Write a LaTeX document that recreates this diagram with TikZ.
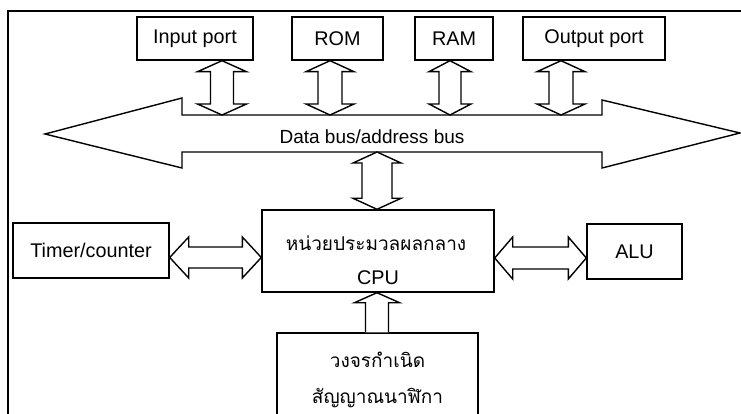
\documentclass[tikz,border=0pt]{standalone}
\usepackage{fontspec}
\setmainfont{Liberation Sans}
\newfontfamily\thaifont[Script=Thai]{Loma}
\usetikzlibrary{calc}
\tikzset{
  box/.style={draw, line width=1.4pt, inner sep=0pt},
  fat/.style={draw, line width=1.4pt, line join=miter, fill=white},
  lbl/.style={font=\fontsize{19.8}{23}\selectfont, inner sep=0pt},
  buslbl/.style={font=\fontsize{19}{23}\selectfont, inner sep=0pt},
  thlbl/.style={font=\thaifont\fontsize{19}{23}\selectfont, inner sep=0pt},
}
% vertical double fat arrow: #1 top point, #2 bottom point, #3 head half-width, #4 shaft half-width, #5 head length
\newcommand\fatV[5]{\draw[fat] let \p1=(#1), \p2=(#2) in
  (\x1,\y1) -- (\x1+#3pt,\y1-#5pt) -- (\x1+#4pt,\y1-#5pt) -- (\x1+#4pt,\y2+#5pt) -- (\x1+#3pt,\y2+#5pt)
  -- (\x1,\y2) -- (\x1-#3pt,\y2+#5pt) -- (\x1-#4pt,\y2+#5pt) -- (\x1-#4pt,\y1-#5pt) -- (\x1-#3pt,\y1-#5pt) -- cycle;}
% horizontal double fat arrow: #1 left point, #2 right point
\newcommand\fatH[5]{\draw[fat] let \p1=(#1), \p2=(#2) in
  (\x1,\y1) -- (\x1+#5pt,\y1+#3pt) -- (\x1+#5pt,\y1+#4pt) -- (\x2-#5pt,\y1+#4pt) -- (\x2-#5pt,\y1+#3pt)
  -- (\x2,\y1) -- (\x2-#5pt,\y1-#3pt) -- (\x2-#5pt,\y1-#4pt) -- (\x1+#5pt,\y1-#4pt) -- (\x1+#5pt,\y1-#3pt) -- cycle;}
% single upward fat arrow: #1 tip, #2 foot
\newcommand\fatUp[5]{\draw[fat] let \p1=(#1), \p2=(#2) in
  (\x1+#4pt,\y2) -- (\x1+#4pt,\y1-#5pt) -- (\x1+#3pt,\y1-#5pt) -- (\x1,\y1) -- (\x1-#3pt,\y1-#5pt)
  -- (\x1-#4pt,\y1-#5pt) -- (\x1-#4pt,\y2);}
\begin{document}
\begin{tikzpicture}[x=1pt,y=-1pt]
\useasboundingbox (0,0) rectangle (741,414);
\clip (0,0) rectangle (741,414);
% outer frame
\draw[line width=1.4pt] (8,414) -- (8,11) -- (745,11);
% top boxes
\node[box, lbl, minimum width=116pt, minimum height=43pt] (inp) at (195,38.5) {Input port};
\node[box, lbl, minimum width=91pt, minimum height=43pt] (rom) at (337.5,38.5) {ROM};
\node[box, lbl, minimum width=78pt, minimum height=43pt] (ram) at (454,38.5) {RAM};
\node[box, lbl, minimum width=142pt, minimum height=43pt] (outp) at (594,38.5) {Output port};
% bus
\draw[fat] (45,134) -- (182,98) -- (182,115) -- (602,115) -- (602,100) -- (740,133)
  -- (602,168) -- (602,152) -- (182,152) -- (182,168) -- cycle;
\node[buslbl] (bus) at (372,137) {Data bus/address bus};
\coordinate (bi) at (222,115);
\coordinate (br) at (330,115);
\coordinate (bm) at (450,115);
\coordinate (bo) at (561,115);
\coordinate (bc) at (377,152);
% middle boxes
\node[box, minimum width=156pt, minimum height=55pt, lbl] (timer) at (91,250.5) {Timer/counter};
\node[box, minimum width=232pt, minimum height=82pt] (cpu) at (378,251) {};
\node[thlbl] (cpuA) at (376,243) {หน่วยประมวลผลกลาง};
\node[lbl] (cpuB) at (378,278) {CPU};
\node[box, lbl, minimum width=95pt, minimum height=55pt] (alu) at (634.5,251.5) {ALU};
% clock box
\node[box, minimum width=201pt, minimum height=100pt] (clk) at (377.5,383) {};
\node[thlbl] (clkA) at (377.5,360) {วงจรกำเนิด};
\node[thlbl] (clkB) at (377.5,398) {สัญญาณนาฬิกา};
% arrows
\fatV{inp.south -| bi}{bi}{24.5}{11.5}{11}
\fatV{rom.south -| br}{br}{24}{12}{11}
\fatV{ram.south -| bm}{bm}{21}{11}{11}
\fatV{outp.south -| bo}{bo}{24}{12}{11}
\fatV{bc}{cpu.north -| bc}{24}{15}{11}
\coordinate (tl) at (timer.east |- 0,257.5);
\fatH{tl}{cpu.west |- tl}{20.5}{10.5}{19}
\coordinate (al) at (cpu.east |- 0,258);
\fatH{al}{alu.west |- al}{21}{11}{18}
\coordinate (ck) at (377,0);
\fatUp{cpu.south -| ck}{clk.north -| ck}{22.5}{11.5}{10}
\end{tikzpicture}
\end{document}
